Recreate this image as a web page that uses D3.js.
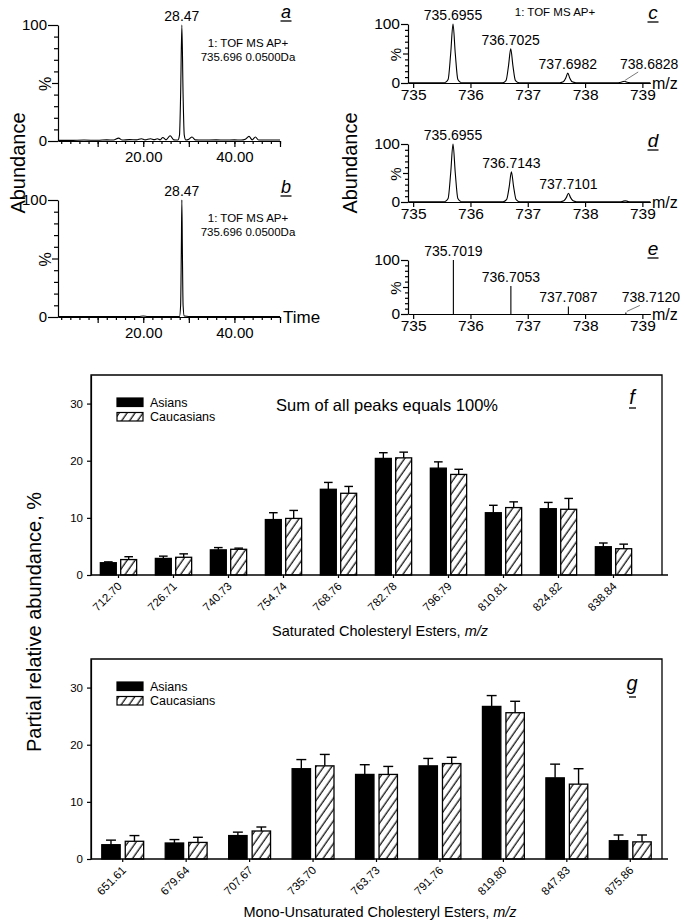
<!DOCTYPE html>
<html>
<head>
<meta charset="utf-8">
<script src="https://cdn.jsdelivr.net/npm/d3@7"></script>
<style>
body { margin: 0; background: #fff; }
svg { display: block; }
</style>
</head>
<body>
<div id="chart"></div>
<script>

// ---------- data ----------

// chromatograms (retention time, %)
var traceA = [[1.3,0.5],[4,0.5],[7,0.8],[10,0.6],[12,1],[13.5,0.8],[14.6,2.5],[15.4,0.8],[17,1.2],[18.5,1],
  [19.6,2],[20.4,1],[21.6,2],[22.4,1.2],[23.1,2],[23.7,1],[24.3,3],[25,1],[25.9,4.5],[26.7,1],[27.6,0.8],
  [27.95,5],[28.2,40],[28.47,100],[28.74,40],[29.0,5],[29.35,0.8],[30.0,1.5],[30.7,3.5],[31.4,1],[33,0.8],
  [36,1],[38,0.8],[40,1],[41.5,0.8],[42.4,1.5],[43.2,4],[43.9,1],[44.6,3.5],[45.3,0.8],[47,0.8],[50,0.8]];
var traceB = [[1.3,0.3],[10,0.3],[19,0.4],[20,0.8],[21,0.4],[27.95,0.3],[28.2,10],[28.35,55],[28.47,100],
  [28.59,55],[28.74,10],[29.0,0.8],[30,0.4],[50,0.3]];
var peakTime = 28.47;
var tofLines = ["1: TOF MS AP+", "735.696 0.0500Da"];

// mass spectra (m/z, %)
var specC = [[734.91,0.5],[735.55,0.5],[735.61,6],[735.655,50],[735.6955,100],[735.735,50],[735.78,6],[735.84,0.5],
  [736.56,0.5],[736.62,4],[736.665,30],[736.7025,58],[736.74,30],[736.785,4],[736.85,0.5],
  [737.56,0.5],[737.62,2],[737.665,9],[737.6982,17],[737.73,9],[737.775,2],[737.84,0.5],
  [738.58,0.5],[738.63,1.2],[738.6828,3],[738.73,1.2],[738.79,0.5],[739.14,0.5]];
var specD = [[734.91,0.5],[735.55,0.5],[735.61,6],[735.655,50],[735.6955,100],[735.735,50],[735.78,6],[735.84,0.5],
  [736.57,0.5],[736.63,4],[736.677,27],[736.7143,52],[736.752,27],[736.797,4],[736.86,0.5],
  [737.57,0.5],[737.63,2],[737.675,8],[737.7101,15],[737.745,8],[737.79,2],[737.85,0.5],
  [738.6,0.5],[738.65,1],[738.70,2],[738.75,1],[738.8,0.5],[739.14,0.5]];
var sticksE = [[735.7019,100],[736.7053,52],[737.7087,14],[738.7120,3]];
var labelsC = [[735.6955,100,"735.6955"],[736.7025,58,"736.7025"],[737.6982,17,"737.6982"],[738.6828,3,"738.6828"]];
var labelsD = [[735.6955,100,"735.6955"],[736.7143,52,"736.7143"],[737.7101,15,"737.7101"]];
var labelsE = [[735.7019,100,"735.7019"],[736.7053,52,"736.7053"],[737.7087,14,"737.7087"],[738.7120,3,"738.7120"]];

// cholesteryl esters, partial relative abundance (%)
var groups = ["Asians", "Caucasians"];
var satMz = ["712.70","726.71","740.73","754.74","768.76","782.78","796.79","810.81","824.82","838.84"];
var satAsian = [2.15, 2.9, 4.4, 9.7, 15.0, 20.4, 18.7, 10.9, 11.6, 4.95];
var satAsianErr = [0.15, 0.4, 0.4, 1.2, 1.2, 1.0, 1.1, 1.3, 1.1, 0.65];
var satCauc = [2.7, 3.1, 4.5, 9.9, 14.3, 20.5, 17.6, 11.8, 11.5, 4.6];
var satCaucErr = [0.5, 0.6, 0.2, 1.4, 1.2, 1.0, 0.9, 1.0, 1.9, 0.8];

var monoMz = ["651.61","679.64","707.67","735.70","763.73","791.76","819.80","847.83","875.86"];
var monoAsian = [2.5, 2.8, 4.1, 15.8, 14.8, 16.3, 26.7, 14.2, 3.2];
var monoAsianErr = [0.8, 0.6, 0.6, 1.6, 1.7, 1.3, 1.9, 2.4, 1.0];
var monoCauc = [3.1, 2.9, 4.9, 16.3, 14.8, 16.7, 25.6, 13.1, 3.0];
var monoCaucErr = [1.0, 0.9, 0.7, 2.0, 1.4, 1.1, 2.0, 2.7, 1.2];
var barTicks = [0, 10, 20, 30];

// ---------- setup ----------

var sans = "'Liberation Sans', Arial, Helvetica, sans-serif";
var narrow = "'Liberation Sans Narrow', 'Arial Narrow', 'Liberation Sans', sans-serif";

var svg = d3.select("#chart").append("svg")
  .attr("width", 685)
  .attr("height", 923);

var defs = svg.append("defs");
defs.append("pattern")
  .attr("id", "hatch")
  .attr("patternUnits", "userSpaceOnUse")
  .attr("width", 6.5)
  .attr("height", 10)
  .attr("patternTransform", "rotate(35)")
  .append("line")
  .attr("x1", 3).attr("y1", 0).attr("x2", 3).attr("y2", 10)
  .attr("stroke", "#000").attr("stroke-width", 1.2);

function text(x, y, s, size, anchor, family, extra) {
  var t = svg.append("text")
    .attr("x", x).attr("y", y)
    .attr("font-size", size)
    .attr("font-family", family || sans)
    .attr("text-anchor", anchor || "start")
    .attr("fill", "#000")
    .text(s);
  if (extra) extra(t);
  return t;
}

function vtext(x, y, s, size, family) {
  return svg.append("text")
    .attr("transform", "translate(" + x + "," + y + ") rotate(-90)")
    .attr("font-size", size)
    .attr("font-family", family || sans)
    .attr("text-anchor", "middle")
    .text(s);
}

function panelLetter(x, y, s, size, ulw) {
  text(x, y, s, size, "middle", sans, function(t) { t.attr("font-style", "italic"); });
  svg.append("line")
    .attr("x1", x - ulw / 2).attr("x2", x + ulw / 2)
    .attr("y1", y + 3).attr("y2", y + 3)
    .attr("stroke", "#000").attr("stroke-width", 1.3);
}

function styleAxis(g, size, family) {
  g.selectAll("path, line").attr("stroke", "#000").attr("stroke-width", 1.2);
  g.selectAll("text").attr("font-size", size).attr("font-family", family || sans).attr("fill", "#000");
}

// ---------- panels a, b : chromatograms ----------

var xTime = d3.scaleLinear().domain([1.3, 50]).range([58, 280]);

function chromPanel(y0, y1, data, letter, showTime) {
  var y = d3.scaleLinear().domain([0, 100]).range([y0, y1]);

  var gx = svg.append("g").attr("transform", "translate(0," + y0 + ")")
    .call(d3.axisBottom(xTime).tickValues(d3.range(2, 51, 2)).tickSize(3).tickSizeOuter(0).tickFormat(""));
  styleAxis(gx, 15);
  var gx2 = svg.append("g").attr("transform", "translate(0," + y0 + ")")
    .call(d3.axisBottom(xTime).tickValues([10, 20, 30, 40, 50]).tickSize(6).tickSizeOuter(0).tickPadding(4)
      .tickFormat(function(d) { return (d == 20 || d == 40) ? d.toFixed(2) : ""; }));
  styleAxis(gx2, 15);
  gx2.select(".domain").remove();

  var gy = svg.append("g").attr("transform", "translate(58,0)")
    .call(d3.axisLeft(y).tickValues(d3.range(10, 100, 10)).tickSize(4).tickSizeOuter(0).tickFormat(""));
  styleAxis(gy, 15);
  gy.selectAll(".tick line").filter(function(d) { return d == 50; }).attr("x2", -6);
  var gy2 = svg.append("g").attr("transform", "translate(58,0)")
    .call(d3.axisLeft(y).tickValues([0, 100]).tickSize(10).tickSizeOuter(0).tickPadding(1));
  styleAxis(gy2, 15);
  gy2.select(".domain").remove();

  vtext(51, y(50) + 1, "%", 16);

  svg.append("path")
    .datum(data)
    .attr("fill", "none")
    .attr("stroke", "#000")
    .attr("stroke-width", 1.1)
    .attr("d", d3.line().x(function(d) { return xTime(d[0]); }).y(function(d) { return y(d[1]); }).curve(d3.curveMonotoneX));

  text(xTime(peakTime), y(100) - 4, peakTime.toFixed(2), 14, "middle");
  text(248, y(100) + 22, tofLines[0], 11.5, "middle");
  text(248, y(100) + 36, tofLines[1], 11.5, "middle");
  panelLetter(286, y(100) - 7, letter, 18, 11);
  if (showTime) text(283, y0 + 6, "Time", 17);
}

chromPanel(141, 25, traceA, "a", false);
chromPanel(317, 200, traceB, "b", true);
vtext(25, 163, "Abundance", 20);

// ---------- panels c, d, e : mass spectra ----------

var xMz = d3.scaleLinear().domain([734.91, 739.14]).range([408, 650.4]);

function specPanel(y0, y1, data, sticks, labels, letter, letterY, tof) {
  var y = d3.scaleLinear().domain([0, 100]).range([y0, y1]);

  var gx = svg.append("g").attr("transform", "translate(0," + y0 + ")")
    .call(d3.axisBottom(xMz).tickValues([735, 736, 737, 738, 739]).tickSize(5).tickSizeOuter(0).tickPadding(1)
      .tickFormat(d3.format("d")));
  styleAxis(gx, 15.5);

  var gy = svg.append("g").attr("transform", "translate(408,0)")
    .call(d3.axisLeft(y).tickValues(d3.range(10, 100, 10)).tickSize(3).tickSizeOuter(0).tickFormat(""));
  styleAxis(gy, 15);
  gy.selectAll(".tick line").filter(function(d) { return d == 50; }).attr("x2", -5);
  var gy2 = svg.append("g").attr("transform", "translate(408,0)")
    .call(d3.axisLeft(y).tickValues([0, 100]).tickSize(7).tickSizeOuter(0).tickPadding(1));
  styleAxis(gy2, 15.5);
  gy2.select(".domain").remove();

  vtext(401, y(50) + 1, "%", 15);
  text(652, y0 + 6, "m/z", 16);

  if (data) {
    svg.append("path")
      .datum(data)
      .attr("fill", "none")
      .attr("stroke", "#000")
      .attr("stroke-width", 1.1)
      .attr("d", d3.line().x(function(d) { return xMz(d[0]); }).y(function(d) { return y(d[1]); }).curve(d3.curveMonotoneX));
  }
  if (sticks) {
    svg.selectAll(null)
      .data(sticks)
      .enter().append("line")
      .attr("x1", function(d) { return xMz(d[0]); })
      .attr("x2", function(d) { return xMz(d[0]); })
      .attr("y1", y0)
      .attr("y2", function(d) { return y(d[1]); })
      .attr("stroke", "#000")
      .attr("stroke-width", 1.1);
  }

  var prevY = 0;
  labels.forEach(function(d, i) {
    var lx = xMz(d[0]), ly = y(d[1]) - 4;
    if (d[1] < 8) {
      // tiny peak: label to the right with a leader line
      ly = prevY;
      text(lx + 25, ly, d[2], 14, "middle");
      svg.append("line")
        .attr("x1", lx + 14).attr("y1", ly + 3)
        .attr("x2", lx + 1).attr("y2", y(d[1]) - 1)
        .attr("stroke", "#555").attr("stroke-width", 0.8);
    } else {
      text(lx, ly, d[2], 14, "middle");
    }
    prevY = ly;
  });

  panelLetter(653, letterY, letter, 19, 11);
  if (tof) text(555, 16, tof, 11.5, "middle");
}

specPanel(83, 24, specC, null, labelsC, "c", 19, tofLines[0]);
specPanel(202, 144, specD, null, labelsD, "d", 147, null);
specPanel(314, 260, null, sticksE, labelsE, "e", 255, null);
vtext(357, 163, "Abundance", 20);

// ---------- panels f, g : bar charts ----------

function barPanel(cats, aVals, aErr, cVals, cErr, top, zero, xRight, letter, letterY, title, titleY, note) {
  var y = d3.scaleLinear().domain([0, 35]).range([zero, top]);
  var x = d3.scaleBand().domain(cats).range([91, xRight]);
  var bw = x.bandwidth();
  var x1 = d3.scaleBand().domain(groups).range([0.17 * bw, 0.83 * bw]).paddingInner(0.216);

  // frame
  svg.append("path")
    .attr("d", "M91," + zero + "V" + top + "H662V" + zero)
    .attr("fill", "none").attr("stroke", "#000").attr("stroke-width", 1.3);
  svg.append("line")
    .attr("x1", 91).attr("x2", 668).attr("y1", zero).attr("y2", zero)
    .attr("stroke", "#000").attr("stroke-width", 1.5);

  var gy = svg.append("g").attr("transform", "translate(91,0)")
    .call(d3.axisLeft(y).tickValues(barTicks).tickSize(4).tickSizeOuter(0).tickPadding(4));
  styleAxis(gy, 11.5, narrow);

  var gx = svg.append("g").attr("transform", "translate(0," + zero + ")")
    .call(d3.axisBottom(x).tickSize(3).tickSizeOuter(0).tickFormat(""));
  styleAxis(gx, 11.5, narrow);
  gx.select(".domain").remove();

  svg.selectAll(null)
    .data(cats)
    .enter().append("text")
    .attr("transform", function(d) { return "translate(" + (x(d) + bw / 2 + 4) + "," + (zero + 12) + ") rotate(-45)"; })
    .attr("text-anchor", "end")
    .attr("font-size", 11.5)
    .attr("font-family", narrow)
    .text(function(d) { return d; });

  var rows = cats.map(function(c, i) {
    return [
      { cat: c, grp: "Asians", v: aVals[i], e: aErr[i] },
      { cat: c, grp: "Caucasians", v: cVals[i], e: cErr[i] }
    ];
  });
  var flat = [].concat.apply([], rows);

  // error bars (upper only)
  var eb = svg.selectAll(null).data(flat).enter().append("g");
  eb.append("line")
    .attr("x1", function(d) { return x(d.cat) + x1(d.grp) + x1.bandwidth() / 2; })
    .attr("x2", function(d) { return x(d.cat) + x1(d.grp) + x1.bandwidth() / 2; })
    .attr("y1", function(d) { return y(d.v); })
    .attr("y2", function(d) { return y(d.v + d.e); })
    .attr("stroke", "#000").attr("stroke-width", 1.4);
  eb.append("line")
    .attr("x1", function(d) { return x(d.cat) + x1(d.grp) + x1.bandwidth() / 2 - x1.bandwidth() * 0.27; })
    .attr("x2", function(d) { return x(d.cat) + x1(d.grp) + x1.bandwidth() / 2 + x1.bandwidth() * 0.27; })
    .attr("y1", function(d) { return y(d.v + d.e); })
    .attr("y2", function(d) { return y(d.v + d.e); })
    .attr("stroke", "#000").attr("stroke-width", 1.4);

  svg.selectAll(null)
    .data(flat)
    .enter().append("rect")
    .attr("x", function(d) { return x(d.cat) + x1(d.grp); })
    .attr("y", function(d) { return y(d.v); })
    .attr("width", x1.bandwidth())
    .attr("height", function(d) { return zero - y(d.v); })
    .attr("fill", function(d) { return d.grp == "Asians" ? "#000" : "url(#hatch)"; })
    .attr("stroke", "#000")
    .attr("stroke-width", 1.3);

  // legend
  var ly = top + 23;
  groups.forEach(function(gname, i) {
    svg.append("rect")
      .attr("x", 117).attr("y", ly + i * 14.5)
      .attr("width", 26).attr("height", 8.5)
      .attr("fill", i == 0 ? "#000" : "url(#hatch)")
      .attr("stroke", "#000").attr("stroke-width", 1.2);
    text(150, ly + i * 14.5 + 8.5, gname, 12.5, "start", narrow);
  });

  if (note) text(387, top + 36, note, 16.5, "middle", narrow);

  text(632, letterY, letter, 20, "middle", sans, function(t) { t.attr("font-style", "italic"); });
  svg.append("line")
    .attr("x1", 629).attr("x2", 636)
    .attr("y1", letterY + (letter == "g" ? 7 : 4)).attr("y2", letterY + (letter == "g" ? 7 : 4))
    .attr("stroke", "#000").attr("stroke-width", 1.3);

  var tt = text(380, titleY, "", 14.5, "middle", narrow);
  tt.append("tspan").text(title);
  tt.append("tspan").attr("font-style", "italic").text("m/z");
}

barPanel(satMz, satAsian, satAsianErr, satCauc, satCaucErr, 375, 575, 641, "f", 404,
  "Saturated Cholesteryl Esters, ", 636, "Sum of all peaks equals 100%");
barPanel(monoMz, monoAsian, monoAsianErr, monoCauc, monoCaucErr, 659, 859, 662, "g", 690,
  "Mono-Unsaturated Cholesteryl Esters, ", 917, null);

vtext(41, 622, "Partial relative abundance, %", 20);

</script>
</body>
</html>
